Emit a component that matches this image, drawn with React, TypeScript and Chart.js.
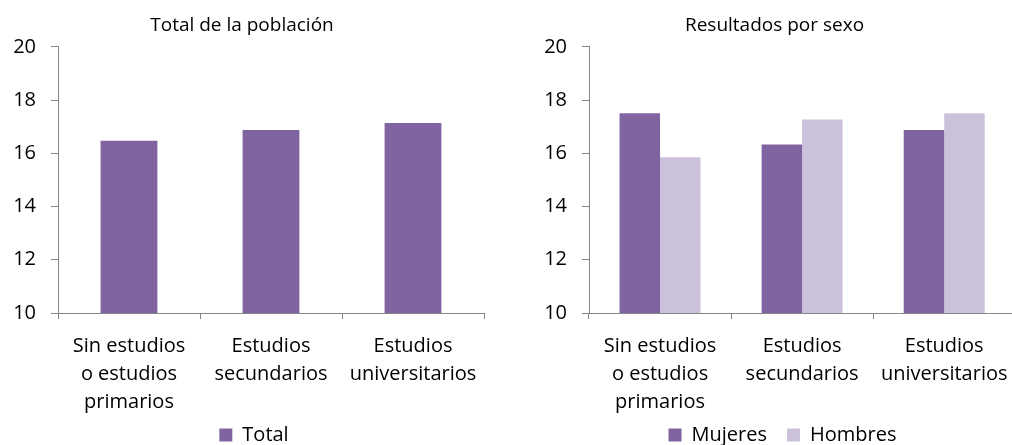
import React, { useEffect, useRef } from "react";
import { Chart, registerables } from "chart.js";

Chart.register(...registerables);

const categories: string[][] = [
  ["Sin estudios", "o estudios", "primarios"],
  ["Estudios", "secundarios"],
  ["Estudios", "universitarios"],
];
const totalValues = [16.47, 16.87, 17.14];
const mujeresValues = [17.5, 16.33, 16.87];
const hombresValues = [15.85, 17.27, 17.5];
const yMin = 10;
const yMax = 20;
const yStep = 2;

const DARK = "#8064A2";
const LIGHT = "#CCC1DA";
const AXIS = "#868686";
const FONT = "'Open Sans', sans-serif";

// Let the x-axis labels overlap the legend's padding box without being clipped,
// and nudge the legend horizontally.
function layoutTweaks(legendShift: number) {
  return {
    id: "layoutTweaks",
    afterLayout(chart: any) {
      const x = chart.scales.x;
      if (x) x.bottom = x.top + 120;
      const lg = chart.legend;
      if (lg) {
        lg.left += legendShift;
        lg.right += legendShift;
      }
    },
  };
}

function makeOptions(title: string, barPct: number, catPct: number, padRight: number) {
  return {
    responsive: false,
    animation: false as const,
    layout: { padding: { left: 0, right: padRight, top: 0, bottom: -10 } },
    plugins: {
      title: {
        display: true,
        text: title,
        color: "#000",
        font: { family: FONT, size: 19, weight: "normal" as const, lineHeight: 1.2 },
        padding: { top: 14, bottom: 10 },
      },
      legend: {
        display: true,
        position: "bottom" as const,
        labels: {
          color: "#000",
          font: { family: FONT, size: 20 },
          boxWidth: 13,
          boxHeight: 13,
          padding: 20,
        },
      },
      tooltip: { enabled: false },
    },
    datasets: { bar: { barPercentage: barPct, categoryPercentage: catPct } },
    scales: {
      x: {
        grid: {
          display: true,
          drawOnChartArea: false,
          drawTicks: true,
          tickLength: 6,
          color: AXIS,
          offset: true,
        },
        border: { display: true, color: AXIS, width: 1 },
        ticks: {
          color: "#000",
          font: { family: FONT, size: 20, lineHeight: 1.4 },
          maxRotation: 0,
          autoSkip: false,
          padding: 13,
        },
        afterFit: (scale: any) => {
          scale.height = 92;
        },
      },
      y: {
        min: yMin,
        max: yMax,
        grid: {
          display: true,
          drawOnChartArea: false,
          drawTicks: true,
          tickLength: 7,
          color: AXIS,
        },
        border: { display: true, color: AXIS, width: 1 },
        ticks: {
          stepSize: yStep,
          color: "#000",
          font: { family: FONT, size: 20 },
          padding: 15,
        },
        afterFit: (scale: any) => {
          scale.width = 58;
        },
      },
    },
  };
}

export default function App() {
  const leftRef = useRef<HTMLCanvasElement>(null);
  const rightRef = useRef<HTMLCanvasElement>(null);

  useEffect(() => {
    const left = new Chart(leftRef.current!, {
      type: "bar",
      data: {
        labels: categories,
        datasets: [
          { label: "Total", data: totalValues, backgroundColor: DARK, borderWidth: 0 },
        ],
      },
      options: makeOptions("Total de la población", 0.4, 1.0, 12) as any,
      plugins: [layoutTweaks(12)],
    });
    const right = new Chart(rightRef.current!, {
      type: "bar",
      data: {
        labels: categories,
        datasets: [
          { label: "Mujeres", data: mujeresValues, backgroundColor: DARK, borderWidth: 0 },
          { label: "Hombres", data: hombresValues, backgroundColor: LIGHT, borderWidth: 0 },
        ],
      },
      options: makeOptions("Resultados por sexo", 1.0, 0.57, 3) as any,
      plugins: [layoutTweaks(8)],
    });
    return () => {
      left.destroy();
      right.destroy();
    };
  }, []);

  return (
    <div
      style={{
        position: "fixed",
        left: 0,
        top: 0,
        width: 1012,
        height: 445,
        overflow: "hidden",
        background: "#fff",
      }}
    >
      <canvas
        ref={leftRef}
        width={496}
        height={445}
        style={{ position: "absolute", left: 0, top: 0 }}
      />
      <canvas
        ref={rightRef}
        width={490}
        height={445}
        style={{ position: "absolute", left: 531, top: 0 }}
      />
    </div>
  );
}
